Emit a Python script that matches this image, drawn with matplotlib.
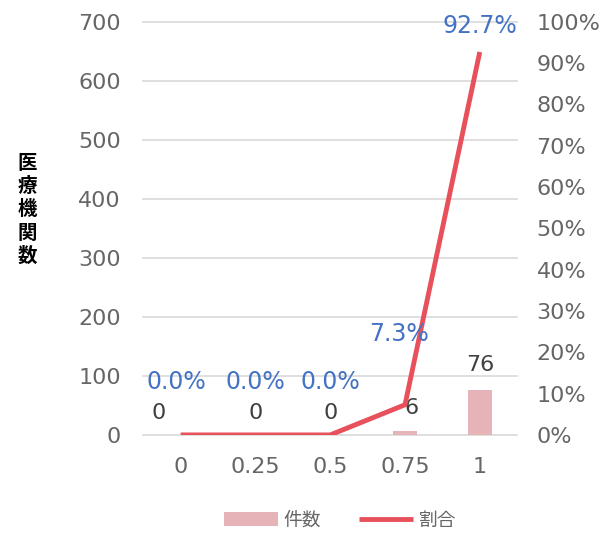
import numpy as np
import matplotlib.pyplot as plt
from matplotlib.ticker import PercentFormatter

plt.rcParams['font.family'] = ['DejaVu Sans', 'Noto Sans CJK JP']

# data
categories = ['0', '0.25', '0.5', '0.75', '1']
counts = [0, 0, 0, 6, 76]
ratios = [0.0, 0.0, 0.0, 7.3, 92.7]
count_offsets = [(-16, 16), (0, 16), (0, 16), (5, 17), (0, 18)]   # points
ratio_offsets = [(-3, 38), (0, 38), (0, 38), (-4, 51), (0, 19)]

bar_color = '#E6B3B8'
line_color = '#E8505B'
text_grey = '#666666'
pct_blue = '#4472C4'

fig = plt.figure(figsize=(6.07, 5.33), dpi=100)
ax = fig.add_axes([0.236, 0.184, 0.616, 0.775])
ax2 = ax.twinx()

x = np.arange(len(categories))
bars = ax.bar(x, counts, width=0.32, color=bar_color, label='件数', zorder=2)
line, = ax2.plot(x, ratios, color=line_color, lw=3.5, label='割合', zorder=3,
                 solid_capstyle='butt')

ax.set_xlim(-0.5, len(categories) - 0.5)
ax.set_ylim(0, 700)
ax.set_yticks(range(0, 701, 100))
ax2.set_ylim(0, 100)
ax2.set_yticks(range(0, 101, 10))
ax2.yaxis.set_major_formatter(PercentFormatter(decimals=0))

ax.set_xticks(x)
ax.set_xticklabels(categories)
ax.grid(axis='y', color='#D9D9D9', lw=1.2, zorder=0, clip_on=False)
ax.set_axisbelow(True)

for a in (ax, ax2):
    for s in a.spines.values():
        s.set_visible(False)
    a.tick_params(length=0, labelsize=16, colors=text_grey)
ax.tick_params(axis='x', pad=16)
ax.tick_params(axis='y', pad=16)
ax2.tick_params(axis='y', pad=14)

# count labels
for xi, c, off in zip(x, counts, count_offsets):
    ax.annotate(str(c), (xi, c), xytext=off,
                textcoords='offset points', ha='center', va='center',
                fontsize=16, color='#404040')

# ratio labels
for xi, r, off in zip(x, ratios, ratio_offsets):
    ax2.annotate(f'{r:.1f}%', (xi, r), xytext=off,
                 textcoords='offset points', ha='center', va='center',
                 fontsize=17, color=pct_blue)

fig.text(0.045, 0.606, '医\n療\n機\n関\n数', ha='center', va='center',
         fontsize=14, fontweight='bold', family='Noto Sans CJK JP',
         linespacing=1.28)

leg = fig.legend(handles=[bars, line], loc='center', bbox_to_anchor=(0.56, 0.024),
                 ncol=2, frameon=False, handlelength=2.9, handleheight=0.8,
                 columnspacing=2.0, handletextpad=0.3,
                 prop={'family': 'Noto Sans CJK JP', 'size': 13.5})
for t in leg.get_texts():
    t.set_color(text_grey)

fig.savefig('out.png', dpi=100)
